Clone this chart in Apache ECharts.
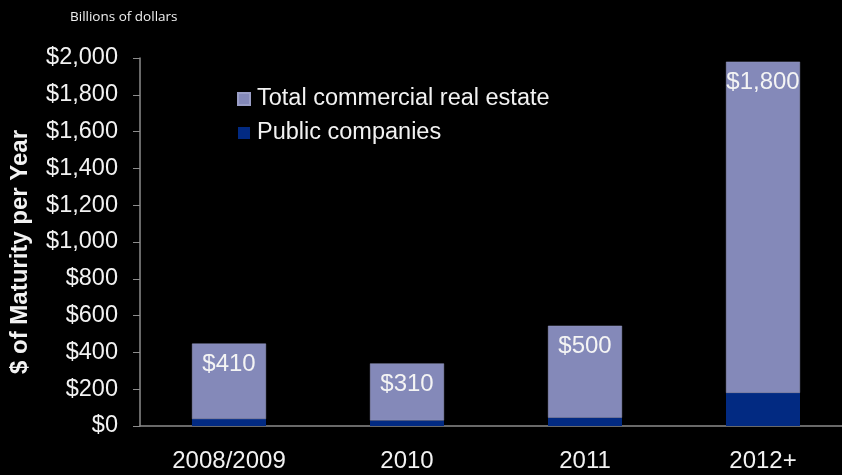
<!DOCTYPE html>
<html>
<head>
<meta charset="utf-8">
<script src="https://cdn.jsdelivr.net/npm/echarts@6/dist/echarts.min.js"></script>
<style>
  html, body { margin: 0; padding: 0; background: #000; overflow: hidden; }
  /* the plot runs a little past the right edge of the window */
  #chart { width: 852px; height: 475px; }
</style>
</head>
<body>
<div id="chart"></div>
<script>
// Maturing commercial real estate debt, billions of dollars
const categories = ['2008/2009', '2010', '2011', '2012+'];
const publicCompanies = [38, 30, 45, 180];
const totalCommercialRealEstate = [410, 310, 500, 1800];
const yTicks = [0, 200, 400, 600, 800, 1000, 1200, 1400, 1600, 1800, 2000];

const fmt = v => '$' + v.toLocaleString('en-US');
const FONT = 'Liberation Sans, Arial, sans-serif';

const chart = echarts.init(document.getElementById('chart'));
chart.setOption({
  backgroundColor: '#000',
  animation: false,
  textStyle: { fontFamily: FONT },
  graphic: [
    {
      type: 'text',
      left: 70, top: 10,
      style: { text: 'Billions of dollars', fill: '#f0f0f0', font: '13.5px "Open Sans", sans-serif' }
    },
    {
      // rotated axis title, placed slightly below the plot's middle
      type: 'text',
      x: 20, y: 252,
      rotation: Math.PI / 2,
      style: {
        text: '$ of Maturity per Year',
        fill: '#f2f2f2',
        font: 'bold 24px ' + FONT,
        align: 'center',
        verticalAlign: 'middle'
      }
    }
  ],
  legend: {
    left: 232, top: 82,
    orient: 'vertical',
    itemWidth: 12, itemHeight: 12,
    itemGap: 10,
    icon: 'rect',
    textStyle: { color: '#f2f2f2', fontSize: 23.5, fontFamily: FONT, padding: [0, 0, 0, 2] },
    data: ['Total commercial real estate', 'Public companies']
  },
  grid: { left: 140, right: 0, top: 58, bottom: 49 },
  xAxis: {
    type: 'category',
    data: categories,
    axisLine: { lineStyle: { color: '#8c8c8c', width: 1.5 } },
    axisTick: { length: 7, lineStyle: { color: '#8c8c8c' } },
    axisLabel: { color: '#f2f2f2', fontSize: 24, margin: 23 }
  },
  yAxis: {
    type: 'value',
    min: yTicks[0], max: yTicks[yTicks.length - 1], interval: 200,
    axisLine: { show: true, lineStyle: { color: '#8c8c8c', width: 1.5 } },
    axisTick: { show: true, length: 7, lineStyle: { color: '#8c8c8c' } },
    splitLine: { show: false },
    axisLabel: { color: '#f2f2f2', fontSize: 23.5, margin: 22, formatter: v => fmt(v) }
  },
  series: [
    {
      name: 'Public companies',
      type: 'bar',
      stack: 'm',
      barWidth: 74,
      data: publicCompanies,
      itemStyle: { color: '#022a82' }
    },
    {
      name: 'Total commercial real estate',
      type: 'bar',
      stack: 'm',
      barWidth: 74,
      data: totalCommercialRealEstate,
      itemStyle: { color: '#8489b9', borderColor: '#9a9ec6', borderWidth: 0.5 },
      label: {
        show: true,
        position: 'insideTop',
        distance: 9,
        color: '#f4f4f4',
        fontSize: 24,
        formatter: p => fmt(p.value)
      }
    }
  ]
});
</script>
</body>
</html>
